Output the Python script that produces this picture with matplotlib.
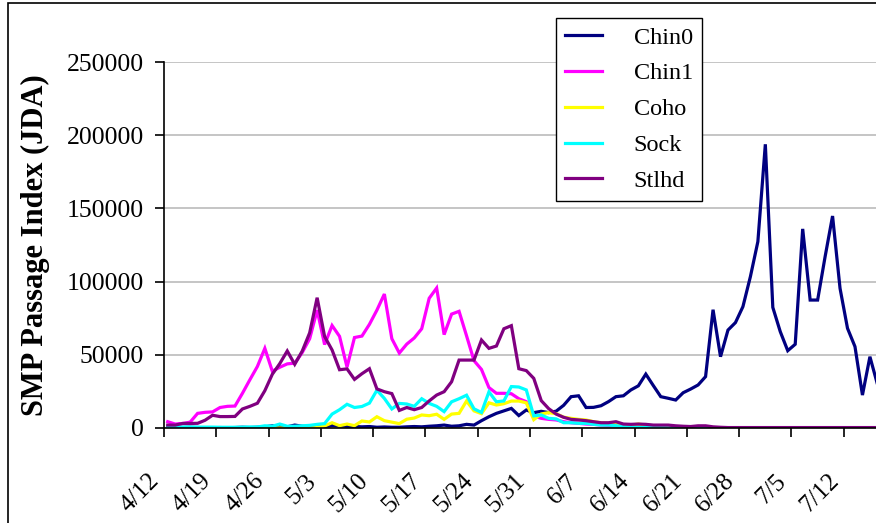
import numpy as np
import matplotlib
matplotlib.use("Agg")
import matplotlib.pyplot as plt
from matplotlib.patches import Rectangle
from matplotlib.transforms import offset_copy

# daily passage index, one value per day starting 4/12
chin0 = [500, 300, 300, 500, 300, 200, 200, 300, 200, 300,
         500, 300, 500, 800, 1500, 1000, 800, 2000, 1200, 800,
         600, 1000, 1800, 1500, 1200, 1000, 800, 1000, 500, 700,
         500, 500, 800, 1000, 800, 1200, 1500, 2000, 1200, 1500,
         2500, 2000, 5000, 7700, 10000, 11700, 13400, 8500, 12300, 10500,
         11400, 10500, 11500, 15500, 21400, 22000, 14000, 14100, 15200, 18000,
         21400, 22000, 26000, 28800, 36800, 29000, 21400, 20300, 19100, 24100,
         26600, 29400, 35100, 80800, 48700, 66900, 72000, 82900, 103400, 127300,
         193800, 82400, 65800, 52800, 57200, 136000, 87400, 87400, 117000, 144800,
         95400, 68100, 55600, 22500, 48700, 30000]
chin1 = [4300, 2700, 3100, 4000, 10000, 10700, 11000, 14000, 14800, 15000,
         23700, 33000, 42000, 54400, 38800, 41500, 43800, 44300, 51500, 61000,
         80500, 57000, 70000, 62600, 41600, 61800, 62800, 70800, 80500, 91500,
         61000, 51200, 57300, 61500, 67800, 88600, 95600, 63800, 77800, 79700,
         63000, 46000, 40000, 27600, 23700, 23700, 23400, 20000, 18000, 8300,
         6600, 5900, 5500, 4300, 3600, 3200, 2700, 2500, 2000, 1800,
         1500, 1200, 1000, 800, 600, 500, 400, 300, 300, 200,
         200, 200, 200, 200, 200, 200, 200, 200, 200, 200,
         200, 200, 200, 200, 200, 200, 200, 200, 200, 200,
         200, 200, 200, 200, 200, 200]
coho = [0, 0, 0, 0, 0, 0, 0, 0, 0, 0,
        0, 0, 0, 0, 0, 0, 0, 0, 0, 0,
        300, 1400, 3600, 1600, 2700, 1600, 4800, 4100, 7700, 5000,
        4000, 3000, 6000, 6800, 8900, 8400, 9400, 5900, 9500, 10000,
        18400, 11700, 9800, 17200, 15700, 16600, 18400, 18400, 17200, 5700,
        9600, 10500, 9800, 7400, 6600, 5900, 5500, 4300, 3600, 3200,
        2500, 2000, 2000, 2700, 2000, 1500, 1200, 1000, 800, 600,
        400, 200, 200, 100, 100, 0, 0, 0, 0, 0,
        0, 0, 0, 0, 0, 0, 0, 0, 0, 0,
        0, 0, 0, 0, 0, 0]
sock = [800, 800, 700, 700, 600, 600, 600, 500, 500, 500,
        600, 700, 700, 1500, 1200, 2700, 1200, 1200, 1500, 1800,
        2500, 3000, 9500, 12500, 16200, 14000, 14700, 17000, 25800, 20200,
        13000, 16800, 16400, 14800, 20000, 16800, 14800, 11200, 17900, 20000,
        22400, 13100, 10600, 24700, 17900, 18500, 28300, 28000, 26000, 8300,
        8900, 6600, 6200, 3600, 3600, 3200, 3200, 2500, 2000, 2000,
        1600, 900, 600, 400, 300, 200, 200, 100, 100, 0,
        0, 0, 0, 0, 0, 0, 0, 0, 0, 0,
        0, 0, 0, 0, 0, 0, 0, 0, 0, 0,
        0, 0, 0, 0, 0, 0]
stlhd = [2000, 2000, 3100, 3100, 3200, 5300, 8700, 7800, 7800, 7900,
         13000, 14800, 16900, 25500, 36700, 44000, 52600, 43500, 52500, 65000,
         89000, 62500, 53300, 39800, 40400, 33200, 37100, 40500, 26700, 24800,
         23500, 12000, 14000, 12500, 14000, 18500, 22500, 24800, 31600, 46400,
         46400, 46400, 60100, 54400, 56000, 67800, 69900, 40500, 39200, 33900,
         18700, 13200, 9500, 7300, 5900, 5500, 5000, 4300, 3600, 3600,
         4300, 2700, 2500, 2700, 2500, 2000, 2000, 2000, 1500, 1200,
         1000, 1500, 1500, 800, 500, 300, 300, 300, 300, 300,
         300, 300, 300, 300, 300, 300, 300, 300, 300, 300,
         300, 300, 300, 300, 300, 300]

names = ["Chin0", "Chin1", "Coho", "Sock", "Stlhd"]
colors = ["#000080", "#FF00FF", "#FFFF00", "#00FFFF", "#800080"]
date_labels = ["4/12", "4/19", "4/26", "5/3", "5/10", "5/17", "5/24",
               "5/31", "6/7", "6/14", "6/21", "6/28", "7/5", "7/12"]

plt.rcParams["font.family"] = ["Liberation Serif", "DejaVu Serif"]

W, H = 876, 523
fig = plt.figure(figsize=(W / 100, H / 100), dpi=100)
px_day = 7.47
ndays = 97
ax = fig.add_axes([164 / W, 95 / H, ndays * px_day / W, 366 / H])

x = np.arange(len(chin0)) + 0.5
for name, col, vals in zip(names, colors, [chin0, chin1, coho, sock, stlhd]):
    ax.plot(x, vals, color=col, lw=2.3, label=name, solid_joinstyle="miter")

ax.set_xlim(0, ndays)
ax.set_ylim(0, 250000)
ax.set_yticks(np.arange(0, 250001, 50000))
ax.yaxis.grid(True, color="#c0c0c0", lw=1.3)
ax.set_axisbelow(True)
for s in ["top", "right"]:
    ax.spines[s].set_visible(False)
ax.spines["left"].set_linewidth(1.2)
ax.spines["bottom"].set_linewidth(1.2)
ax.tick_params(axis="y", direction="out", length=6.5, width=1.2, pad=8, labelsize=18.5)
ax.tick_params(axis="x", direction="out", length=6.5, width=1.2, labelbottom=False)

ticks = np.arange(0, 7 * len(date_labels), 7)
ax.set_xticks(ticks)
for t, lab in zip(ticks, date_labels):
    tr = offset_copy(ax.get_xaxis_transform(), fig=fig, x=-16, y=-42, units="dots")
    ax.text(t, 0, lab, transform=tr, rotation=45, ha="right", va="top",
            rotation_mode="anchor", fontsize=18)

ax.set_ylabel("SMP Passage Index (JDA)", fontsize=22, fontweight="bold", labelpad=12)

leg = fig.legend(loc="upper left", bbox_to_anchor=(556 / W, 1 - 18 / H),
                 fontsize=17.5, frameon=True, fancybox=False, framealpha=1,
                 edgecolor="black", borderpad=0.35, labelspacing=0.57,
                 handlelength=1.55, handletextpad=1.3, borderaxespad=0)
leg.get_frame().set_linewidth(1.0)
for h in leg.get_lines():
    h.set_linewidth(2.3)

fig.add_artist(Rectangle((8 / W, -0.1), 1.2, 1.1 - 3 / H, transform=fig.transFigure,
                         fill=False, edgecolor="black", lw=1.2))

fig.savefig("out.png", dpi=100)
